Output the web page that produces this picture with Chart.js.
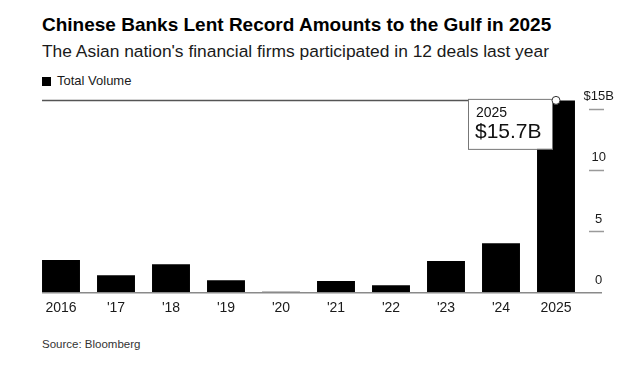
<!DOCTYPE html>
<html>
<head>
<meta charset="utf-8">
<script src="https://cdn.jsdelivr.net/npm/chart.js@4.4.1/dist/chart.umd.min.js"></script>
<style>
  html, body { margin: 0; padding: 0; background: #fff; }
  body { width: 640px; height: 375px; position: relative; overflow: hidden; font-family: "Liberation Sans", Arial, sans-serif; }
  .txt { position: absolute; left: 42px; white-space: nowrap; line-height: 1; }
  #title { top: 15px; font-size: 19px; font-weight: bold; color: #000; }
  #subtitle { top: 43px; font-size: 17.4px; color: #1a1a1a; }
  #legend { top: 74px; font-size: 13px; color: #1a1a1a; }
  #legend span { display: inline-block; width: 9px; height: 9px; background: #000; margin-right: 6px; vertical-align: -1px; }
  #source { top: 339px; font-size: 11.5px; color: #333; }
  #chart { position: absolute; left: 0; top: 0; }
</style>
</head>
<body>
<div class="txt" id="title">Chinese Banks Lent Record Amounts to the Gulf in 2025</div>
<div class="txt" id="subtitle">The Asian nation's financial firms participated in 12 deals last year</div>
<div class="txt" id="legend"><span></span>Total Volume</div>
<div class="txt" id="source">Source: Bloomberg</div>
<canvas id="chart" width="640" height="375"></canvas>
<script>
// Gegevens: totaal volume per jaar (miljard dollar)
const years = ['2016', "'17", "'18", "'19", "'20", "'21", "'22", "'23", "'24", '2025'];
const volumes = [2.67, 1.42, 2.32, 1.01, 0.08, 0.95, 0.6, 2.59, 4.03, 15.7];
const yTicks = [0, 5, 10, 15];
const calloutYear = '2025';
const calloutText = '$15.7B';

// Lijnen, streepjes en het label bij de laatste staaf
const extras = {
    id: 'extras',
    afterDatasetsDraw(chart) {
        const ctx = chart.ctx;
        const y = chart.scales.y;
        const bar0 = chart.getDatasetMeta(0).data[0];
        const last = chart.getDatasetMeta(0).data[volumes.length - 1];
        const left = bar0.x - bar0.width / 2;
        const y0 = y.getPixelForValue(0);

        ctx.save();
        // nul-lijn
        ctx.strokeStyle = '#8a8a8a';
        ctx.lineWidth = 1.5;
        ctx.beginPath();
        ctx.moveTo(left, y0);
        ctx.lineTo(602, y0);
        ctx.stroke();

        // streepjes bij de ticks
        ctx.strokeStyle = '#9a9a9a';
        yTicks.forEach(v => {
            if (v === 0) return;
            const ty = Math.round(y.getPixelForValue(v)) + 0.5;
            ctx.beginPath();
            ctx.moveTo(589, ty);
            ctx.lineTo(604, ty);
            ctx.stroke();
        });

        // lijn naar de top van de laatste staaf
        const py = last.y;
        ctx.strokeStyle = '#555';
        ctx.lineWidth = 1.5;
        ctx.beginPath();
        ctx.moveTo(left, py);
        ctx.lineTo(last.x, py);
        ctx.stroke();

        // label-box
        const bx = last.x - 88;
        const by = py - 1.5;
        ctx.fillStyle = '#fff';
        ctx.fillRect(bx, by, 84, 50);
        ctx.strokeStyle = '#777';
        ctx.lineWidth = 1;
        ctx.strokeRect(bx + 0.5, by + 0.5, 84, 50);
        ctx.fillStyle = '#111';
        ctx.textBaseline = 'middle';
        ctx.textAlign = 'left';
        ctx.font = '14px "Liberation Sans", Arial, sans-serif';
        ctx.fillText(calloutYear, bx + 8, by + 14);
        ctx.font = '21px "Liberation Sans", Arial, sans-serif';
        ctx.fillText(calloutText, bx + 7, by + 33.5);

        // cirkel
        ctx.beginPath();
        ctx.arc(last.x, py, 4, 0, Math.PI * 2);
        ctx.fillStyle = '#fff';
        ctx.fill();
        ctx.strokeStyle = '#333';
        ctx.lineWidth = 1;
        ctx.stroke();
        ctx.restore();
    }
};

const ctx = document.getElementById('chart').getContext('2d');
const chart = new Chart(ctx, {
    type: 'bar',
    data: {
        labels: years,
        datasets: [{
            label: 'Total Volume',
            data: volumes,
            backgroundColor: '#000',
            borderWidth: 0,
            categoryPercentage: 1,
            barPercentage: 0.69
        }]
    },
    options: {
        responsive: false,
        animation: false,
        layout: {
            padding: { left: 33.5, top: 96.7, right: 0, bottom: 52.3 }
        },
        plugins: {
            legend: { display: false },
            tooltip: { enabled: false }
        },
        scales: {
            x: {
                grid: { display: false },
                border: { display: false },
                ticks: {
                    color: '#1a1a1a',
                    padding: -1,
                    maxRotation: 0,
                    autoSkip: false,
                    font: { family: '"Liberation Sans", Arial, sans-serif', size: 14 }
                },
                afterFit(scale) { scale.height = 30; }
            },
            y: {
                position: 'right',
                min: 0,
                max: 16,
                grid: { display: false },
                border: { display: false },
                afterBuildTicks(scale) {
                    scale.ticks = yTicks.map(v => ({ value: v }));
                },
                afterFit(scale) { scale.width = 56.5; },
                ticks: {
                    color: '#1a1a1a',
                    crossAlign: 'center',
                    padding: -8,
                    labelOffset: -12.5,
                    font: { family: '"Liberation Sans", Arial, sans-serif', size: 13 },
                    callback: v => v === 15 ? '$15B' : String(v)
                }
            }
        }
    },
    plugins: [extras]
});
</script>
</body>
</html>
